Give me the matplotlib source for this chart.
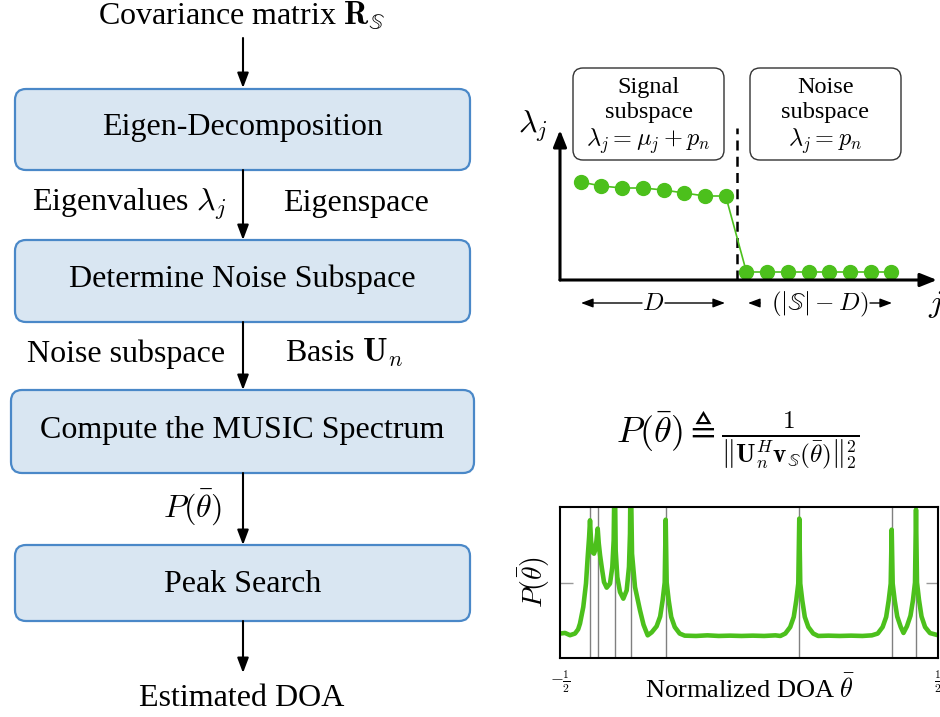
import matplotlib
matplotlib.use('Agg')
import matplotlib.pyplot as plt
from matplotlib.patches import FancyBboxPatch
import numpy as np

plt.rcParams['font.family'] = ['Liberation Serif', 'DejaVu Serif']
plt.rcParams['mathtext.fontset'] = 'cm'

# flow chart steps
steps = ['Eigen-Decomposition', 'Determine Noise Subspace',
         'Compute the MUSIC Spectrum', 'Peak Search']

# eigenvalues (arbitrary units)
j_idx = list(range(1, 17))
lam_signal = [9.8, 9.4, 9.2, 9.2, 9.0, 8.7, 8.4, 8.4]
lam_noise = [0.8, 0.8, 0.8, 0.8, 0.8, 0.8, 0.8, 0.8]

# MUSIC pseudo spectrum
doa_x = [-0.5, -0.4868, -0.4735, -0.4603, -0.4520, -0.4471, -0.4384, -0.4312, -0.4267,
         -0.4230, -0.4206, -0.4180, -0.4140, -0.4101, -0.4060, -0.4030, -0.4003,
         -0.3975, -0.3940, -0.3897, -0.3836, -0.3765, -0.3677, -0.3616, -0.3580,
         -0.3553, -0.3527, -0.3484, -0.3413, -0.3325, -0.3236, -0.3175, -0.3148,
         -0.3130, -0.3095, -0.3016, -0.2884, -0.2790, -0.2680, -0.2574, -0.2444,
         -0.2350, -0.2283, -0.2230, -0.2204, -0.2178, -0.2125, -0.2058, -0.1964,
         -0.1834, -0.17, -0.14, -0.11, -0.08, -0.05, -0.02, 0.01, 0.04, 0.07,
         0.083, 0.096, 0.109, 0.1184, 0.1251, 0.1304, 0.133, 0.1356, 0.1409,
         0.1476, 0.157, 0.170, 0.183, 0.21, 0.24, 0.27, 0.30, 0.325, 0.3405,
         0.3535, 0.3629, 0.3696, 0.3749, 0.3775, 0.3801, 0.3854, 0.3921, 0.4015,
         0.4087, 0.4178, 0.4272, 0.4339, 0.4392, 0.4418, 0.4444, 0.4497, 0.4564,
         0.4658, 0.4788, 0.5]
doa_p = [0.162, 0.166, 0.151, 0.162, 0.190, 0.228, 0.338, 0.494, 0.670,
         0.800, 0.912, 0.780, 0.700, 0.691, 0.720, 0.790, 0.857,
         0.760, 0.680, 0.603, 0.503, 0.466, 0.493, 0.603, 0.779,
         1.30, 0.713, 0.536, 0.437, 0.393, 0.448, 0.603, 0.824,
         1.30, 0.691, 0.470, 0.316, 0.220, 0.150, 0.170, 0.210,
         0.275, 0.385, 0.500, 0.916, 0.500, 0.382, 0.272, 0.205,
         0.162, 0.148, 0.146, 0.150, 0.146, 0.148, 0.146, 0.148, 0.146, 0.150,
         0.146, 0.162, 0.205, 0.272, 0.382, 0.493, 0.923, 0.493, 0.382,
         0.272, 0.205, 0.162, 0.146, 0.148, 0.146, 0.148, 0.146, 0.150, 0.162,
         0.205, 0.272, 0.382, 0.493, 0.850, 0.493, 0.382, 0.275, 0.205,
         0.166, 0.210, 0.280, 0.385, 0.500, 0.983, 0.500, 0.385, 0.275,
         0.205, 0.165, 0.151]
doa_true = [-0.4206, -0.4003, -0.3553, -0.3130, -0.2204, 0.133, 0.3775, 0.4418]

green = '#4cc01c'
box_fc = '#d9e6f2'
box_ec = '#4a88c8'
fs_main = 23

fig = plt.figure(figsize=(9.4, 7.17), dpi=100)

# ---- flow chart, drawn in pixel coords ----
ax0 = fig.add_axes([0, 0, 1, 1])
ax0.set_xlim(0, 940)
ax0.set_ylim(717, 0)
ax0.axis('off')

box_pos = [(15, 89, 455, 81), (15, 240, 455, 82), (11, 390, 463, 83), (15, 545, 455, 76)]
box_base = [135, 287, 438, 592]
for s, (bx, by, bw, bh), yb in zip(steps, box_pos, box_base):
    ax0.add_patch(FancyBboxPatch((bx, by), bw, bh, boxstyle='round,pad=0,rounding_size=11',
                                 fc=box_fc, ec=box_ec, lw=1.6))
    ax0.text(bx + bw / 2, yb, s, ha='center', va='baseline', fontsize=fs_main)

ax_x = 243
arrows = [(38, 88), (170, 240), (322, 390), (473, 545), (621, 673)]
for y0, y1 in arrows:
    ax0.annotate('', xy=(ax_x, y1), xytext=(ax_x, y0),
                 arrowprops=dict(arrowstyle='-|>,head_length=0.45,head_width=0.17',
                                 color='black', lw=1.5, mutation_scale=20,
                                 shrinkA=0, shrinkB=0))

ax0.text(242, 24, r'Covariance matrix $\mathbf{R}_{\mathbb{S}}$', ha='center', va='baseline', fontsize=fs_main)
ax0.text(226, 211, r'Eigenvalues $\lambda_j$', ha='right', va='baseline', fontsize=fs_main)
ax0.text(283, 211, 'Eigenspace', ha='left', va='baseline', fontsize=fs_main)
ax0.text(225, 362, 'Noise subspace', ha='right', va='baseline', fontsize=fs_main)
ax0.text(285, 362, r'Basis $\mathbf{U}_n$', ha='left', va='baseline', fontsize=fs_main)
ax0.text(222, 517, r'$P(\bar{\theta})$', ha='right', va='baseline', fontsize=23)
ax0.text(242, 706, 'Estimated DOA', ha='center', va='baseline', fontsize=fs_main)

# eigen plot annotation boxes
for bx, lines in [(573, ['Signal', 'subspace', r'$\lambda_j = \mu_j + p_n$']),
                  (750, ['Noise', 'subspace', r'$\lambda_j = p_n$'])]:
    ax0.add_patch(FancyBboxPatch((bx, 68), 151, 92, boxstyle='round,pad=0,rounding_size=10',
                                 fc='white', ec='#333333', lw=1.0))
    for t, yb in zip(lines, [93, 118, 146]):
        ax0.text(bx + 75.5, yb, t, ha='center', va='baseline', fontsize=17.5)

ax0.text(533, 133, r'$\lambda_j$', ha='center', va='baseline', fontsize=fs_main)
ax0.text(928, 312, r'$j$', ha='left', va='baseline', fontsize=fs_main)

# D and (|S|-D) span arrows
sa = dict(arrowstyle='-|>,head_length=0.4,head_width=0.15', color='black', lw=1.0,
          mutation_scale=18, shrinkA=0, shrinkB=0)
ax0.annotate('', xy=(581, 303), xytext=(642, 303), arrowprops=sa)
ax0.annotate('', xy=(725, 303), xytext=(665, 303), arrowprops=sa)
ax0.text(653, 310, r'$D$', ha='center', va='baseline', fontsize=18)
ax0.annotate('', xy=(748, 303), xytext=(760, 303), arrowprops=sa)
ax0.annotate('', xy=(892, 303), xytext=(870, 303), arrowprops=sa)
ax0.text(820, 310, r'$(|\mathbb{S}| - D)$', ha='center', va='baseline', fontsize=18)

# formula
ax0.text(738, 440, r'$P(\bar{\theta}) \triangleq \frac{1}{\left\Vert \mathbf{U}_n^H \mathbf{v}_{\mathbb{S}}(\bar{\theta}) \right\Vert_2^2}$',
         ha='center', va='center', fontsize=26)

# ---- eigenvalue plot ----
ax1 = fig.add_axes([560 / 940, 1 - 280 / 717, 377 / 940, 150 / 717])
ax1.patch.set_visible(False)
for sp in ax1.spines.values():
    sp.set_visible(False)
ax1.set_xticks([])
ax1.set_yticks([])
ax1.set_xlim(0, 18.2)
ax1.set_ylim(0, 15)
lam_all = lam_signal + lam_noise
ax1.plot(j_idx, lam_all, color=green, lw=1.2, marker='o', ms=10, mec=green, mfc=green, zorder=3)
ax1.plot([8.55, 8.55], [0, 15.2], color='black', lw=1.8, ls=(0, (4, 2.5)), clip_on=False)
aa = dict(arrowstyle='-|>,head_length=0.5,head_width=0.2', color='black', lw=2.2,
          mutation_scale=20, shrinkA=0, shrinkB=0)
ax1.annotate('', xy=(0, 1), xytext=(0, 0), xycoords='axes fraction', arrowprops=aa)
ax1.annotate('', xy=(1, 0), xytext=(0, 0), xycoords='axes fraction', arrowprops=aa)

# ---- spectrum plot ----
ax2 = fig.add_axes([560 / 940, 1 - 658 / 717, 378 / 940, 151 / 717])
for xv in doa_true:
    ax2.axvline(xv, color='#808080', lw=1.0, zorder=1)
ax2.plot(doa_x, doa_p, color=green, lw=3.3, zorder=2, solid_joinstyle='round')
ax2.set_xlim(-0.5, 0.5)
ax2.set_ylim(0, 1)
ax2.set_yticks([0.5])
ax2.set_yticklabels([])
ax2.tick_params(axis='y', direction='in', length=9, color='#999999', width=1.0, left=True, right=True)
ax2.set_xticks([-0.5, 0.5])
ax2.set_xticklabels([r'$-\frac{1}{2}$', r'$\frac{1}{2}$'], fontsize=12)
ax2.tick_params(axis='x', length=0, pad=8)
for sp in ax2.spines.values():
    sp.set_linewidth(1.5)
ax0.text(750, 698, r'Normalized DOA $\bar{\theta}$', ha='center', va='baseline', fontsize=19)
ax2.set_ylabel(r'$P(\bar{\theta})$', fontsize=20, labelpad=2)

fig.savefig('out.png', dpi=100)
